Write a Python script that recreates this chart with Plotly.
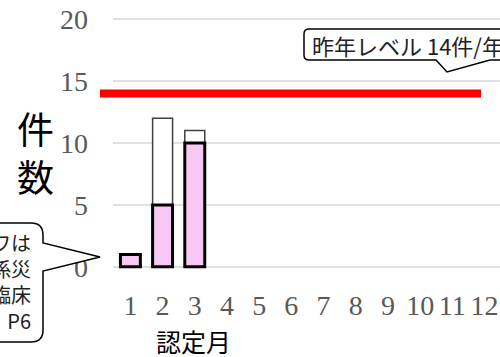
import plotly.graph_objects as go

# ---- data ----
months = [1, 2, 3, 4, 5, 6, 7, 8, 9, 10, 11, 12]
month_labels = [str(m) for m in months]
total_counts = [1, 12, 11, None, None, None, None, None, None, None, None, None]
certified_counts = [1, 5, 10, None, None, None, None, None, None, None, None, None]
last_year_level = 14
y_ticks = [0, 5, 10, 15, 20]

# ---- layout geometry (pixels) ----
W, H = 500, 357
ML, MR, MT, MB = 113, 0, 13, 84
PW, PH = W - ML - MR, H - MT - MB


def px(x):
    return (x - ML) / PW


def py(y):
    return (H - MB - y) / PH


fig = go.Figure()
fig.add_trace(go.Bar(
    x=months, y=total_counts, width=0.62,
    marker=dict(color="white", line=dict(color="#404040", width=1.5)),
    showlegend=False, hoverinfo="skip"))
fig.add_trace(go.Bar(
    x=months, y=certified_counts, width=0.62,
    marker=dict(color="#f8c8f4", line=dict(color="black", width=3)),
    showlegend=False, hoverinfo="skip"))

# last year level line
fig.add_shape(type="line", xref="paper", yref="y",
              x0=px(100), x1=px(481), y0=last_year_level, y1=last_year_level,
              line=dict(color="#ff0000", width=8), layer="above")


def pt(x, y):
    return f"{px(x):.5f},{py(y):.5f}"


# top-right callout
top_path = ("M " + pt(309, 29) + " L " + pt(530, 29) + " L " + pt(530, 60) +
            " L " + pt(490, 60) + " L " + pt(447, 72) + " L " + pt(436, 60) +
            " L " + pt(309, 60) + " Q " + pt(304, 60) + " " + pt(304, 55) +
            " L " + pt(304, 34) + " Q " + pt(304, 29) + " " + pt(309, 29) + " Z")
fig.add_shape(type="path", xref="paper", yref="paper", path=top_path,
              fillcolor="white", line=dict(color="black", width=1.5), layer="above")
fig.add_annotation(xref="paper", yref="paper", x=px(310), y=py(45),
                   xanchor="left", yanchor="middle", showarrow=False,
                   text=f"昨年レベル {last_year_level}件/年",
                   font=dict(family="Noto Sans CJK JP", size=22, color="#222222"))

# left callout
left_path = ("M " + pt(-30, 223) + " L " + pt(31, 223) + " Q " + pt(43, 223) + " " + pt(43, 235) +
             " L " + pt(43, 243) + " L " + pt(100, 257) + " L " + pt(43, 271) +
             " L " + pt(43, 330) + " Q " + pt(43, 342) + " " + pt(31, 342) +
             " L " + pt(-30, 342) + " Z")
fig.add_shape(type="path", xref="paper", yref="paper", path=left_path,
              fillcolor="white", line=dict(color="black", width=1.5), layer="above")
fig.add_annotation(xref="paper", yref="paper", x=px(33), y=py(281),
                   xanchor="right", yanchor="middle", showarrow=False, align="right",
                   text="ワは<br>係災<br>臨床<br>P6",
                   font=dict(family="Noto Sans CJK JP", size=20, color="#222222"))

# axis titles
fig.add_annotation(xref="paper", yref="paper", x=px(35), y=py(152),
                   xanchor="center", yanchor="middle", showarrow=False, text="件<br>数",
                   font=dict(family="Noto Sans CJK JP", size=37, color="black"))
fig.add_annotation(xref="paper", yref="paper", x=px(193), y=py(341),
                   xanchor="center", yanchor="middle", showarrow=False, text="認定月",
                   font=dict(family="Noto Sans CJK JP", size=25, color="black"))

tick_font = dict(family="Liberation Serif", size=28, color="#595959")
fig.update_layout(
    width=W, height=H, margin=dict(l=ML, r=MR, t=MT, b=MB, pad=0),
    paper_bgcolor="white", plot_bgcolor="white", barmode="overlay",
    xaxis=dict(range=[0.46, 12.48], tickmode="array", tickvals=months, ticktext=month_labels,
               showgrid=False, zeroline=False, showline=False, ticks="",
               tickfont=tick_font, ticklabelstandoff=13),
    yaxis=dict(range=[-0.5, 20.5], tickmode="array", tickvals=y_ticks,
               ticktext=[str(v) for v in y_ticks],
               showgrid=True, gridcolor="#e0e0e0", gridwidth=2,
               zeroline=False, showline=False, ticks="",
               tickfont=tick_font, ticklabelstandoff=24),
)

fig.write_html("out.html")
